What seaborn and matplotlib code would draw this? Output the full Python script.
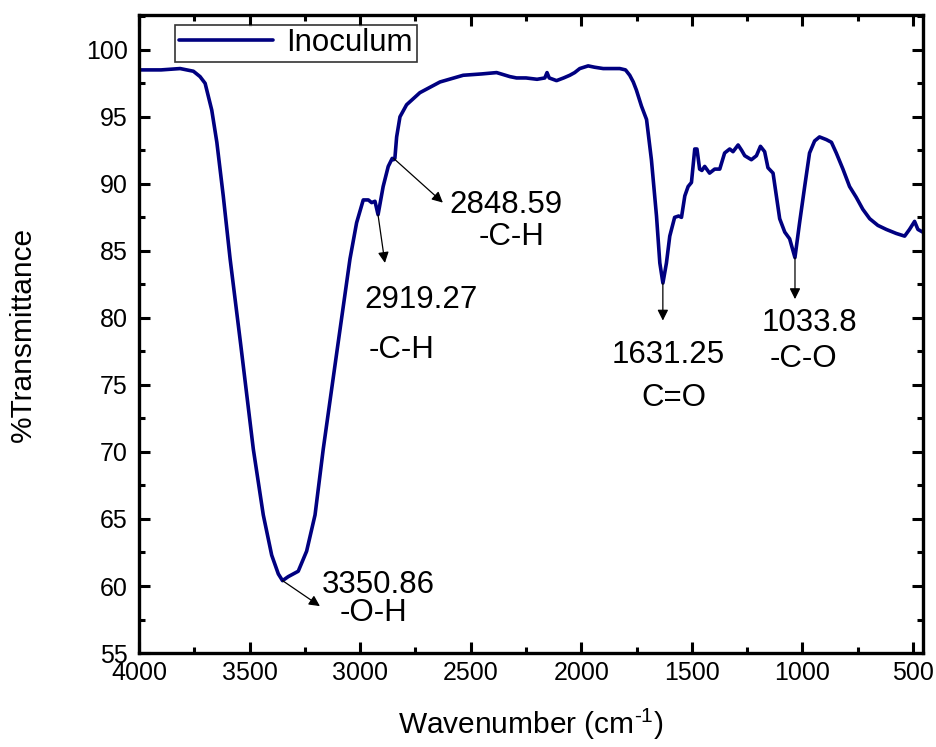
import numpy as np
import pandas as pd
import matplotlib
matplotlib.use("Agg")
import matplotlib.pyplot as plt
import seaborn as sns
from matplotlib.ticker import MultipleLocator

# FTIR spectrum
wavenumber = [4000, 3980, 3900, 3814, 3754, 3724, 3701, 3686, 3671, 3648, 3619, 3588,
              3540, 3483, 3438, 3400, 3370, 3351, 3325, 3280, 3242, 3204, 3167, 3105,
              3046, 3016, 2986, 2963, 2948, 2933, 2919, 2896, 2873, 2855, 2849, 2843,
              2835, 2820, 2790, 2730, 2639, 2534, 2450, 2383, 2323, 2293, 2250, 2200,
              2165, 2155, 2145, 2112, 2080, 2052, 2030, 2007, 1969, 1940, 1901, 1826,
              1800, 1781, 1765, 1751, 1728, 1705, 1683, 1660, 1645, 1631, 1615, 1600,
              1578, 1560, 1547, 1532, 1517, 1502, 1487, 1477, 1465, 1455, 1442, 1420,
              1397, 1374, 1352, 1329, 1314, 1291, 1275, 1261, 1231, 1208, 1190, 1171,
              1156, 1133, 1118, 1103, 1080, 1058, 1034, 1013, 990, 968, 945, 923,
              892, 869, 847, 817, 787, 757, 727, 696, 659, 621, 576, 538,
              516, 493, 478, 456, 447]
transmittance = [98.5, 98.5, 98.5, 98.6, 98.4, 98.0, 97.5, 96.5, 95.5, 93.1, 89.1, 84.4,
                 78.0, 70.2, 65.3, 62.3, 60.9, 60.4, 60.7, 61.1, 62.6, 65.3, 70.2, 77.5,
                 84.4, 87.1, 88.8, 88.8, 88.6, 88.7, 87.7, 89.8, 91.3, 91.9, 91.8, 91.9,
                 93.5, 95.0, 95.9, 96.8, 97.6, 98.1, 98.2, 98.3, 98.0, 97.9, 97.9, 97.8,
                 97.9, 98.3, 97.9, 97.7, 97.9, 98.1, 98.3, 98.6, 98.8, 98.7, 98.6, 98.6,
                 98.5, 98.1, 97.6, 97.0, 95.8, 94.8, 91.8, 87.6, 84.1, 82.6, 84.1, 86.1,
                 87.5, 87.6, 87.5, 89.1, 89.8, 90.1, 92.6, 92.6, 91.1, 91.0, 91.3, 90.8,
                 91.1, 91.1, 92.3, 92.6, 92.4, 92.9, 92.5, 92.1, 91.8, 92.1, 92.8, 92.4,
                 91.2, 90.8, 89.1, 87.4, 86.4, 85.9, 84.5, 87.1, 89.8, 92.3, 93.2, 93.5,
                 93.3, 93.1, 92.3, 91.1, 89.8, 89.0, 88.1, 87.4, 86.9, 86.6, 86.3, 86.1,
                 86.6, 87.2, 86.6, 86.4, 86.3]

# peak labels
peak_wn = [3350.86, 2919.27, 2848.59, 1631.25, 1033.8]
peak_t = [60.4, 87.7, 91.9, 82.6, 84.5]
peak_value_labels = ["3350.86", "2919.27", "2848.59", "1631.25", "1033.8"]
peak_group_labels = ["-O-H", "-C-H", "-C-H", "C=O", "-C-O"]

df = pd.DataFrame({"Wavenumber": wavenumber, "Transmittance": transmittance})

sns.set_style("ticks")
plt.rcParams["font.family"] = ["Liberation Sans", "DejaVu Sans"]
plt.rcParams["mathtext.fontset"] = "custom"
plt.rcParams["mathtext.rm"] = "Liberation Sans"
plt.rcParams["mathtext.default"] = "regular"
plt.rcParams["text.color"] = "black"
plt.rcParams["axes.labelcolor"] = "black"

fig = plt.figure(figsize=(9.36, 7.47), dpi=100)
ax = fig.add_axes([0.1485, 0.1258, 0.8376, 0.8542])

sns.lineplot(data=df, x="Wavenumber", y="Transmittance", ax=ax, color="#000080",
             linewidth=2.6, estimator=None, sort=False, label="Inoculum")

ax.set_xlim(4000, 455)
ax.set_ylim(55, 102.6)
ax.xaxis.set_major_locator(MultipleLocator(500))
ax.xaxis.set_minor_locator(MultipleLocator(250))
ax.yaxis.set_major_locator(MultipleLocator(5))
ax.yaxis.set_minor_locator(MultipleLocator(2.5))
ax.tick_params(which="both", direction="in", top=True, right=True, width=2.2,
               labelsize=18, colors="black")
ax.tick_params(which="major", length=8, pad=6)
ax.tick_params(which="minor", length=4)
ax.tick_params(axis="y", which="major", pad=8)
for s in ax.spines.values():
    s.set_linewidth(2.4)
    s.set_color("black")

ax.set_xlabel("Wavenumber (cm$^{\\text{-}1}$)", fontsize=21.5)
ax.set_ylabel("%Transmittance", fontsize=21.5)
ax.xaxis.set_label_coords(0.5, -0.085)
ax.yaxis.set_label_coords(-0.13, 0.5)

# arrow heads and label centres (wavenumber, %T)
arrow_heads = [(3182, 58.5), (2888, 84.1), (2626, 88.6), (1631.25, 79.8), (1033.8, 81.4)]
value_pos = [(2920, 60.1), (2725, 81.3), (2341, 88.4), (1605, 77.2), (968, 79.6)]
group_pos = [(2940, 58.0), (2815, 77.6), (2314, 86.0), (1582, 74.0), (995, 76.9)]

for i in range(len(peak_wn)):
    ax.annotate("", xy=arrow_heads[i], xytext=(peak_wn[i], peak_t[i]),
                arrowprops=dict(arrowstyle="-|>", color="black", lw=0.9,
                                mutation_scale=16, shrinkA=0, shrinkB=0))
    ax.text(value_pos[i][0], value_pos[i][1], peak_value_labels[i], fontsize=22.5,
            ha="center", va="center", color="black")
    ax.text(group_pos[i][0], group_pos[i][1], peak_group_labels[i], fontsize=22.5,
            ha="center", va="center", color="black")

leg = ax.legend(loc="upper left", bbox_to_anchor=(0.046, 0.985), borderaxespad=0,
                fontsize=22.5, frameon=True, fancybox=False, handlelength=3.0,
                handletextpad=0.45, borderpad=0.12)
leg.get_frame().set_edgecolor("black")
leg.get_frame().set_linewidth(1.2)
for t in leg.get_texts():
    t.set_color("black")

fig.savefig("out.png", dpi=100)
